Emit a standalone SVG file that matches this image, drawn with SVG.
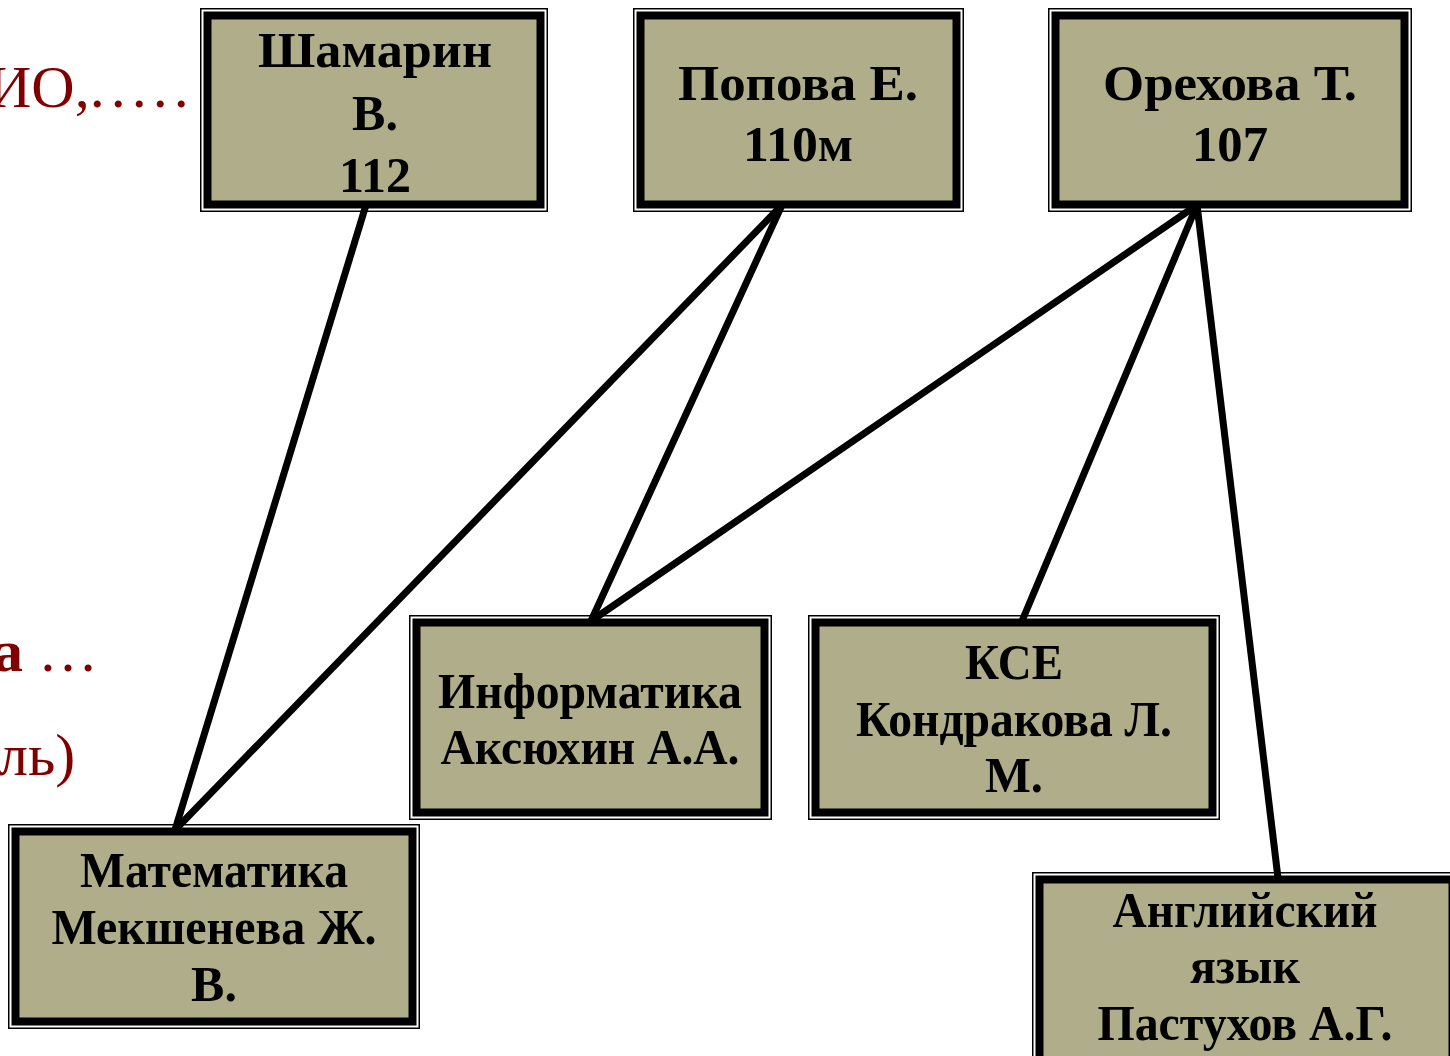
<svg xmlns="http://www.w3.org/2000/svg" width="1450" height="1056" viewBox="0 0 1450 1056">
<style>
.o{fill:#fff;stroke:#000;stroke-width:1.5}
.i{fill:#b0ae8a;stroke:#000;stroke-width:8}
.t{font-family:"Liberation Serif","Times New Roman",serif;font-weight:bold;font-size:50px;fill:#000;text-anchor:middle}
.r{font-family:"Liberation Serif","Times New Roman",serif;font-size:60px;fill:#800000}
.c{stroke:#000;stroke-width:7;fill:none;stroke-linecap:butt}
</style>
<rect width="1450" height="1056" fill="#fff"/>
<g id="bg-text">
<text class="r" x="-12" y="107">ИО,<tspan letter-spacing="6">.....</tspan></text>
<text class="r" x="-7" y="671"><tspan font-weight="bold">а</tspan> <tspan letter-spacing="2">…</tspan></text>
<text class="r" x="-2" y="775">ль)</text>
</g>
<g id="n-shamarin">
<rect class="o" x="200.75" y="8.75" width="346.5" height="202.5"/>
<rect class="i" x="207.5" y="15.5" width="333" height="189"/>
<text class="t" x="375" y="67" textLength="234" lengthAdjust="spacingAndGlyphs">Шамарин</text>
<text class="t" x="375" y="130">В.</text>
<text class="t" x="375" y="192">112</text>
</g>
<g id="n-popova">
<rect class="o" x="633.75" y="8.75" width="329.5" height="202.5"/>
<rect class="i" x="640.5" y="15.5" width="316" height="189"/>
<text class="t" x="798" y="100" font-size="56" textLength="240" lengthAdjust="spacingAndGlyphs">Попова Е.</text>
<text class="t" x="798" y="161" font-size="56" textLength="110" lengthAdjust="spacingAndGlyphs">110м</text>
</g>
<g id="n-orekhova">
<rect class="o" x="1048.75" y="8.75" width="362.5" height="202.5"/>
<rect class="i" x="1055.5" y="15.5" width="349" height="189"/>
<text class="t" x="1230" y="100" font-size="56" textLength="254" lengthAdjust="spacingAndGlyphs">Орехова Т.</text>
<text class="t" x="1230" y="161" font-size="56" textLength="76" lengthAdjust="spacingAndGlyphs">107</text>
</g>
<g id="n-informatika">
<rect class="o" x="409.75" y="615.75" width="361.5" height="203.5"/>
<rect class="i" x="416.5" y="622.5" width="348" height="190"/>
<text class="t" x="590" y="708" font-size="52" textLength="304" lengthAdjust="spacingAndGlyphs">Информатика</text>
<text class="t" x="590" y="764" font-size="52" textLength="299" lengthAdjust="spacingAndGlyphs">Аксюхин А.А.</text>
</g>
<g id="n-kse">
<rect class="o" x="808.75" y="615.75" width="410.5" height="203.5"/>
<rect class="i" x="815.5" y="622.5" width="397" height="190"/>
<text class="t" x="1014" y="679" font-size="52" textLength="98" lengthAdjust="spacingAndGlyphs">КСЕ</text>
<text class="t" x="1014" y="736" font-size="52" textLength="316" lengthAdjust="spacingAndGlyphs">Кондракова Л.</text>
<text class="t" x="1014" y="792" font-size="52" textLength="58" lengthAdjust="spacingAndGlyphs">М.</text>
</g>
<g id="n-matematika">
<rect class="o" x="8.75" y="824.75" width="410.5" height="203.5"/>
<rect class="i" x="15.5" y="831.5" width="397" height="190"/>
<text class="t" x="214" y="887" textLength="268" lengthAdjust="spacingAndGlyphs">Математика</text>
<text class="t" x="214" y="944" textLength="325" lengthAdjust="spacingAndGlyphs">Мекшенева Ж.</text>
<text class="t" x="214" y="1001">В.</text>
</g>
<g id="n-angliyskiy">
<rect class="o" x="1032.75" y="872.75" width="426.5" height="210"/>
<rect class="i" x="1039.5" y="879.5" width="413" height="196"/>
<text class="t" x="1245" y="927" textLength="265" lengthAdjust="spacingAndGlyphs">Английский</text>
<text class="t" x="1245" y="983" textLength="110" lengthAdjust="spacingAndGlyphs">язык</text>
<text class="t" x="1245" y="1040" textLength="295" lengthAdjust="spacingAndGlyphs">Пастухов А.Г.</text>
</g>
<g id="connectors">
<line class="c" x1="366" y1="205" x2="175" y2="830"/>
<line class="c" x1="782" y1="205" x2="175" y2="830"/>
<line class="c" x1="782" y1="205" x2="591" y2="621"/>
<line class="c" x1="1197" y1="205" x2="591" y2="621"/>
<line class="c" x1="1197" y1="205" x2="1022" y2="621"/>
<line class="c" x1="1197" y1="205" x2="1278" y2="878"/>
</g>
</svg>
